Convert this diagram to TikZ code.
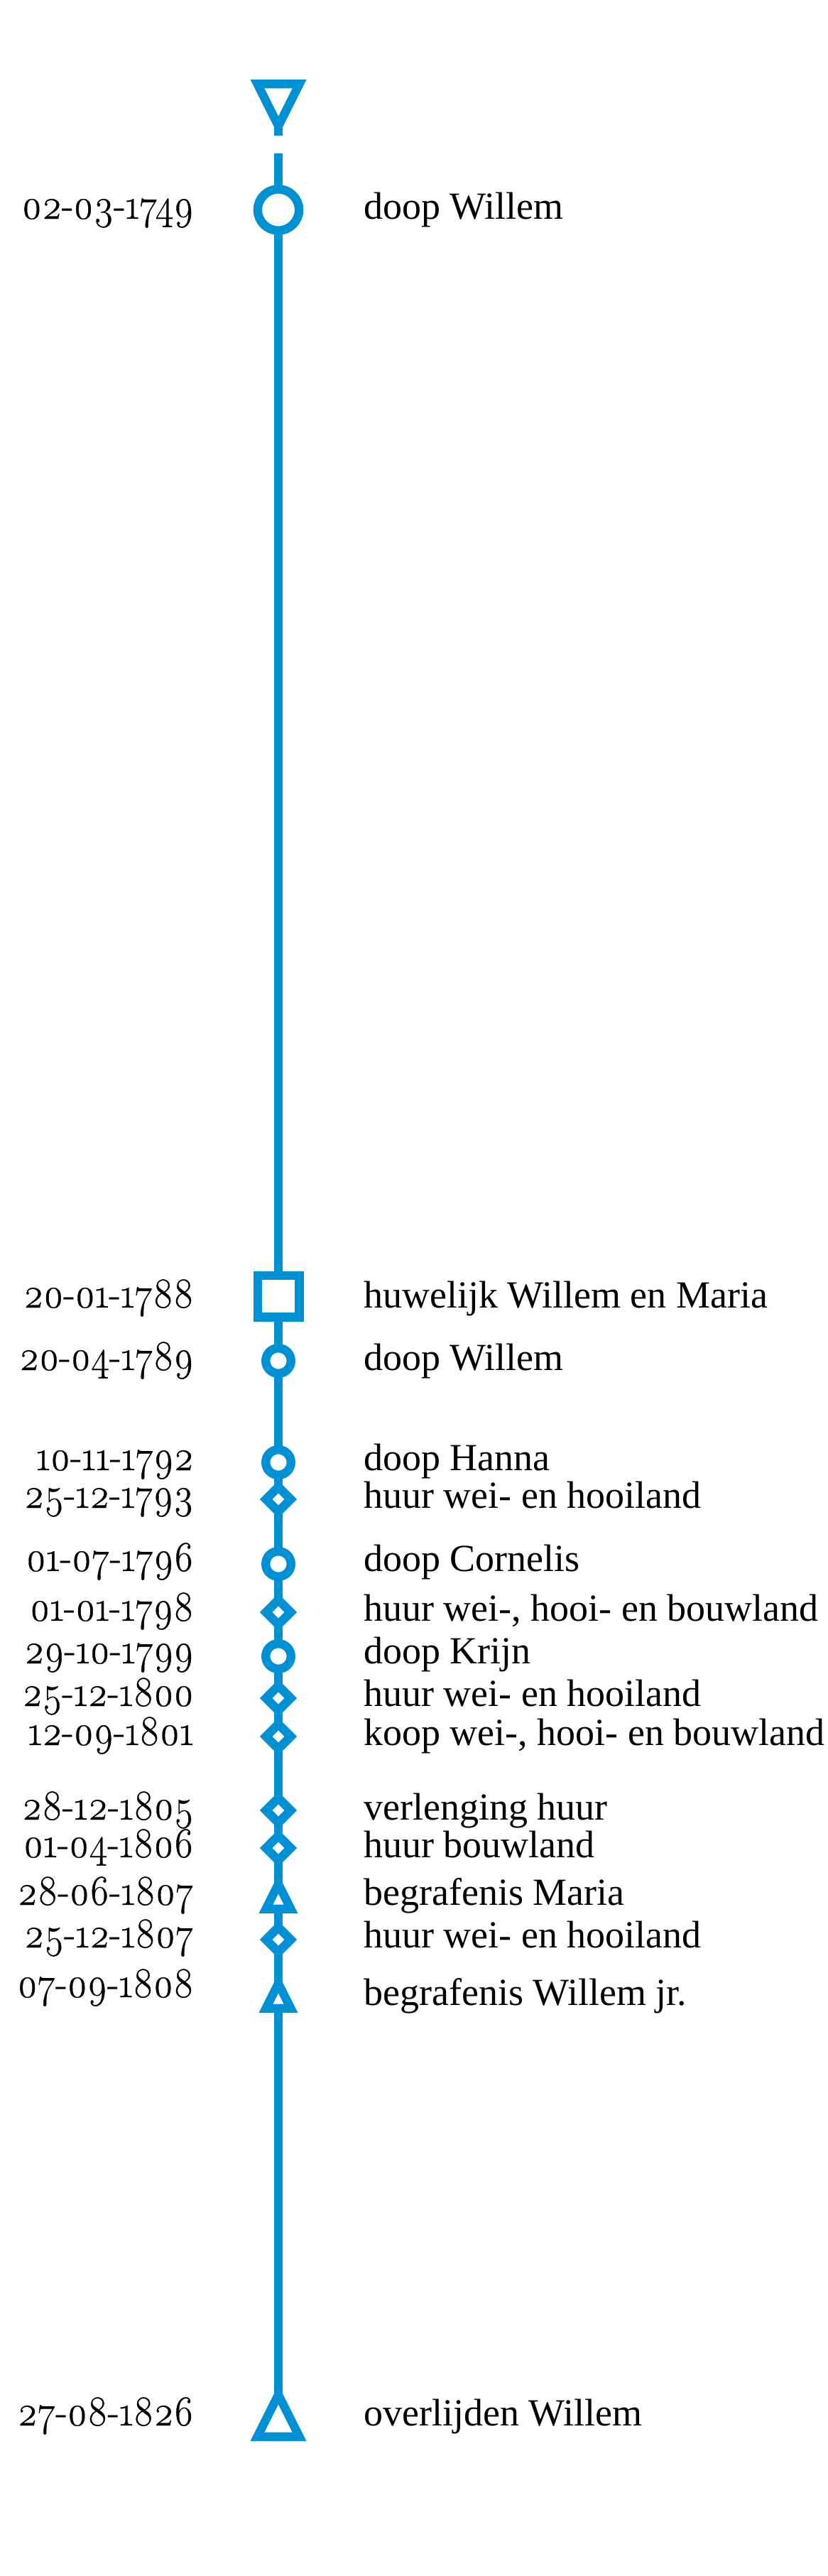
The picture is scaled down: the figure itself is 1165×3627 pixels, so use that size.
\documentclass[tikz,border=0pt]{standalone}
\usepackage{fontspec}
\setmainfont{Liberation Serif}
\newfontfamily\datefont[Numbers=OldStyle,FakeBold=0.6,FakeStretch=0.9]{Latin Modern Roman}
\definecolor{tlblue}{RGB}{0,145,213}
\begin{document}
\begin{tikzpicture}[x=1pt,y=-1pt,
  mk/.style={draw=tlblue,line width=12.4pt,fill=white,miter limit=10},
  axis/.style={draw=tlblue,line width=12.4pt},
  datelab/.style={anchor=base east,inner sep=0pt,font=\datefont\fontsize{60}{66}\selectfont},
  evlab/.style={anchor=base west,inner sep=0pt,font=\fontsize{54}{60}\selectfont},
  bigcirc/.style={circle,mk,minimum size=58.2pt,inner sep=0pt},
  smallcirc/.style={circle,mk,minimum size=35.6pt,inner sep=0pt},
  sqmark/.style={rectangle,mk,minimum size=58.6pt,inner sep=0pt},
  diamark/.pic={\draw[mk] (-17.35,0)--(0,-17.35)--(17.35,0)--(0,17.35)--cycle;},
  tridown/.pic={\fill[tlblue] (-39.5,0)--(39.5,0)--(0,79)--cycle;
                \fill[white] (-19.6,12.3)--(19.6,12.3)--(0,51.5)--cycle;},
  tribig/.pic={\fill[tlblue] (-39.5,0)--(39.5,0)--(0,-79)--cycle;
               \fill[white] (-19.6,-12.3)--(19.6,-12.3)--(0,-51.5)--cycle;},
  trismall/.pic={\fill[tlblue] (-27.5,0)--(27.5,0)--(0,-55)--cycle;
                 \fill[white] (-7.6,-12.3)--(7.6,-12.3)--(0,-27.5)--cycle;}
]
\useasboundingbox (0,0) rectangle (1165,3627);

% axis
\coordinate (stubA) at (392,150);
\coordinate (stubB) at (392,191);
\coordinate (ltop) at (392,216);
\coordinate (lbot) at (392,3410);
\draw[axis] (stubA) -- (stubB);
\draw[axis] (ltop) -- (lbot);

% markers
\pic (start) at (392,112) {tridown};
\node[bigcirc] (m1749) at (392,295.5) {};
\node[sqmark] (m1788) at (392,1825) {};
\node[smallcirc] (m1789) at (392,1916) {};
\node[smallcirc] (m1792) at (392,2059) {};
\pic (m1793) at (392,2111) {diamark};
\node[smallcirc] (m1796) at (392,2202) {};
\pic (m1798) at (392,2270) {diamark};
\node[smallcirc] (m1799) at (392,2332) {};
\pic (m1800) at (392,2391) {diamark};
\pic (m1801) at (392,2445) {diamark};
\pic (m1805) at (392,2549) {diamark};
\pic (m1806) at (392,2602) {diamark};
\pic (m1807a) at (392,2694) {trismall};
\pic (m1807b) at (392,2731) {diamark};
\pic (m1808) at (392,2834) {trismall};
\pic (m1826) at (392,3437) {tribig};

% dates
\node[datelab] (d1749) at (273,308) {02-03-1749};
\node[datelab] (d1788) at (273,1841) {20-01-1788};
\node[datelab] (d1789) at (273,1929) {20-04-1789};
\node[datelab] (d1792) at (273,2070) {10-11-1792};
\node[datelab] (d1793) at (273,2123) {25-12-1793};
\node[datelab] (d1796) at (273,2212) {01-07-1796};
\node[datelab] (d1798) at (273,2282) {01-01-1798};
\node[datelab] (d1799) at (273,2342) {29-10-1799};
\node[datelab] (d1800) at (273,2402) {25-12-1800};
\node[datelab] (d1801) at (273,2457) {12-09-1801};
\node[datelab] (d1805) at (273,2562) {28-12-1805};
\node[datelab] (d1806) at (273,2615) {01-04-1806};
\node[datelab] (d1807a) at (273,2682) {28-06-1807};
\node[datelab] (d1807b) at (273,2742) {25-12-1807};
\node[datelab] (d1808) at (273,2812) {07-09-1808};
\node[datelab] (d1826) at (273,3415) {27-08-1826};

% events
\node[evlab] (e1749) at (512,308) {doop Willem};
\node[evlab] (e1788) at (512,1841) {huwelijk Willem en Maria};
\node[evlab] (e1789) at (512,1929) {doop Willem};
\node[evlab] (e1792) at (512,2070) {doop Hanna};
\node[evlab] (e1793) at (512,2123) {huur wei- en hooiland};
\node[evlab] (e1796) at (512,2212) {doop Cornelis};
\node[evlab] (e1798) at (512,2282) {huur wei-, hooi- en bouwland};
\node[evlab] (e1799) at (512,2342) {doop Krijn};
\node[evlab] (e1800) at (512,2402) {huur wei- en hooiland};
\node[evlab] (e1801) at (512,2457) {koop wei-, hooi- en bouwland};
\node[evlab] (e1805) at (512,2562) {verlenging huur};
\node[evlab] (e1806) at (512,2615) {huur bouwland};
\node[evlab] (e1807a) at (512,2682) {begrafenis Maria};
\node[evlab] (e1807b) at (512,2742) {huur wei- en hooiland};
\node[evlab] (e1808) at (512,2823) {begrafenis Willem jr.};
\node[evlab] (e1826) at (512,3415) {overlijden Willem};
\end{tikzpicture}
\end{document}
